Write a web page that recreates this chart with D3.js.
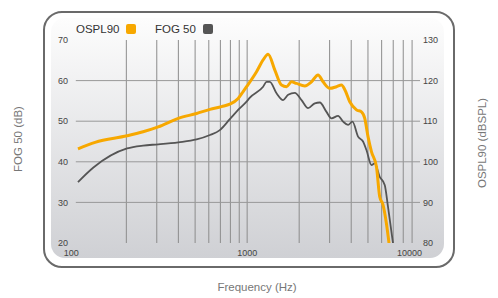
<!DOCTYPE html>
<html>
<head>
<meta charset="utf-8">
<script src="https://cdn.jsdelivr.net/npm/d3@7"></script>
<style>
  body { margin: 0; background: #fff; }
  text { font-family: "Liberation Sans", Arial, sans-serif; }
</style>
</head>
<body>
<div id="chart"></div>
<script>
// FOG 50 curve (left axis, dB)
var fogFreq = [105, 129, 202, 250, 306, 400, 510, 609, 695, 794, 908, 992, 1037, 1237, 1295, 1353, 1479, 1615, 1726, 1887, 2063, 2252, 2462, 2632, 2877, 3075, 3358, 3590, 3835, 4067, 4382, 4683, 4900, 5237, 5470, 5847, 6250, 6531, 6982]
var fogVals = [35.0, 38.6, 43.3, 44.0, 44.3, 44.8, 45.5, 46.6, 47.8, 50.5, 53.2, 54.8, 55.8, 58.5, 59.7, 59.7, 56.9, 55.2, 56.5, 57.0, 55.2, 53.2, 54.4, 54.6, 52.3, 50.7, 51.3, 49.9, 49.1, 49.9, 46.2, 45.0, 42.9, 39.2, 39.6, 36.3, 34.3, 28.9, 19.9]

// OSPL90 curve (right axis, dBSPL)
var osplFreq = [105, 132, 202, 250, 306, 400, 510, 609, 711, 794, 887, 948, 992, 1133, 1237, 1322, 1446, 1580, 1690, 1805, 1930, 2156, 2357, 2572, 2750, 3006, 3287, 3513, 3680, 3923, 4290, 4585, 4790, 5003, 5237, 5598, 5847, 6110, 6394, 6621]
var osplVals = [103.2, 104.8, 106.4, 107.4, 108.6, 110.7, 111.9, 112.9, 113.6, 114.2, 115.6, 117.3, 118.5, 122.2, 125.1, 126.5, 122.6, 118.9, 118.5, 119.7, 119.3, 118.7, 119.7, 121.4, 119.7, 118.1, 118.5, 118.9, 117.7, 114.8, 112.8, 112.3, 110.7, 106.2, 102.5, 98.8, 91.4, 89.4, 84.8, 79.9]

var leftTicks = [20, 30, 40, 50, 60, 70]
var rightTicks = [80, 90, 100, 110, 120, 130]
var xTickLabels = [100, 1000, 10000]
var gridFreqs = [200, 300, 400, 500, 600, 700, 800, 900, 1000, 2000, 3000, 4000, 5000, 6000, 7000, 8000, 9000]

var width = 498
var height = 298
var orange = "#f7a800"
var grey = "#555555"

var x = d3.scaleLog().domain([100, 10000]).range([74.3, 420])
var yLeft = d3.scaleLinear().domain([20, 70]).range([243, 40])
var yRight = d3.scaleLinear().domain([80, 130]).range([243, 40])

var svg = d3.select("#chart")
  .append("svg")
  .attr("width", width)
  .attr("height", height)

var defs = svg.append("defs")
var grad = defs.append("linearGradient")
  .attr("id", "panelGrad")
  .attr("x1", 0).attr("y1", 0).attr("x2", 0).attr("y2", 1)
grad.append("stop").attr("offset", "0%").attr("stop-color", "#fdfdfd")
grad.append("stop").attr("offset", "100%").attr("stop-color", "#cfd0d4")

defs.append("clipPath").attr("id", "plotClip")
  .append("rect")
  .attr("x", x(100)).attr("y", yLeft(70) - 6)
  .attr("width", x(10000) - x(100)).attr("height", yLeft(20) - yLeft(70) + 6)

// outer frame + inner gradient panel
svg.append("rect")
  .attr("x", 44).attr("y", 12)
  .attr("width", 410).attr("height", 255)
  .attr("rx", 18)
  .attr("fill", "#fff")
  .attr("stroke", "#6a6a6a")
  .attr("stroke-width", 2)

svg.append("rect")
  .attr("x", 51).attr("y", 18)
  .attr("width", 393).attr("height", 240)
  .attr("rx", 14)
  .attr("fill", "url(#panelGrad)")

// grid
svg.selectAll(".vgrid")
  .data(gridFreqs)
  .enter()
  .append("line")
  .attr("x1", function(d) { return x(d) })
  .attr("x2", function(d) { return x(d) })
  .attr("y1", yLeft(70))
  .attr("y2", yLeft(20))
  .attr("stroke", "#8c8c8c")
  .attr("stroke-width", 1)

svg.selectAll(".hgrid")
  .data(leftTicks.slice(1, -1))
  .enter()
  .append("line")
  .attr("x1", x(100) + 1.5)
  .attr("x2", x(10000))
  .attr("y1", function(d) { return yLeft(d) })
  .attr("y2", function(d) { return yLeft(d) })
  .attr("stroke", "#999")
  .attr("stroke-width", 1)

// tick labels
svg.selectAll(".ltick")
  .data(leftTicks)
  .enter()
  .append("text")
  .attr("x", 68)
  .attr("y", function(d) { return yLeft(d) })
  .attr("dy", "0.35em")
  .attr("text-anchor", "end")
  .attr("font-size", 9)
  .attr("fill", "#444")
  .text(function(d) { return d })

svg.selectAll(".rtick")
  .data(rightTicks)
  .enter()
  .append("text")
  .attr("x", 423)
  .attr("y", function(d) { return yRight(d) })
  .attr("dy", "0.35em")
  .attr("text-anchor", "start")
  .attr("font-size", 9)
  .attr("fill", "#444")
  .text(function(d) { return d })

svg.selectAll(".xtick")
  .data(xTickLabels)
  .enter()
  .append("text")
  .attr("x", function(d, i) { return i == 0 ? x(d) - 3 : (i == 2 ? x(d) + 2 : x(d)) })
  .attr("y", 256)
  .attr("text-anchor", function(d, i) { return i == 2 ? "end" : "middle" })
  .attr("font-size", 9)
  .attr("fill", "#444")
  .text(function(d) { return d })

// curves
var fogData = fogFreq.map(function(f, i) { return [f, fogVals[i]] })
var osplData = osplFreq.map(function(f, i) { return [f, osplVals[i]] })

var fogLine = d3.line()
  .x(function(d) { return x(d[0]) })
  .y(function(d) { return yLeft(d[1]) })
  .curve(d3.curveMonotoneX)

var osplLine = d3.line()
  .x(function(d) { return x(d[0]) })
  .y(function(d) { return yRight(d[1]) })
  .curve(d3.curveMonotoneX)

var plot = svg.append("g").attr("clip-path", "url(#plotClip)")

plot.append("path")
  .datum(fogData)
  .attr("d", fogLine)
  .attr("fill", "none")
  .attr("stroke", grey)
  .attr("stroke-width", 1.8)
  .attr("stroke-linejoin", "round")

plot.append("path")
  .datum(osplData)
  .attr("d", osplLine)
  .attr("fill", "none")
  .attr("stroke", orange)
  .attr("stroke-width", 3)
  .attr("stroke-linejoin", "round")

// legend
var legend = [
  {name: "OSPL90", color: orange, x: 76, sx: 126},
  {name: "FOG 50", color: grey, x: 155, sx: 203}
]
var lg = svg.selectAll(".legend")
  .data(legend)
  .enter()
  .append("g")

lg.append("text")
  .attr("x", function(d) { return d.x })
  .attr("y", 33)
  .attr("font-size", 11.5)
  .attr("fill", "#333")
  .text(function(d) { return d.name })

lg.append("rect")
  .attr("x", function(d) { return d.sx })
  .attr("y", 24)
  .attr("width", 10)
  .attr("height", 10)
  .attr("rx", 2)
  .attr("fill", function(d) { return d.color })

// axis titles
svg.append("text")
  .attr("transform", "translate(22,139) rotate(-90)")
  .attr("text-anchor", "middle")
  .attr("font-size", 11.5)
  .attr("fill", "#777")
  .text("FOG 50 (dB)")

svg.append("text")
  .attr("transform", "translate(486,143) rotate(-90)")
  .attr("text-anchor", "middle")
  .attr("font-size", 11.5)
  .attr("fill", "#777")
  .text("OSPL90 (dBSPL)")

svg.append("text")
  .attr("x", 257)
  .attr("y", 291)
  .attr("text-anchor", "middle")
  .attr("font-size", 11.5)
  .attr("fill", "#777")
  .text("Frequency (Hz)")
</script>
</body>
</html>
